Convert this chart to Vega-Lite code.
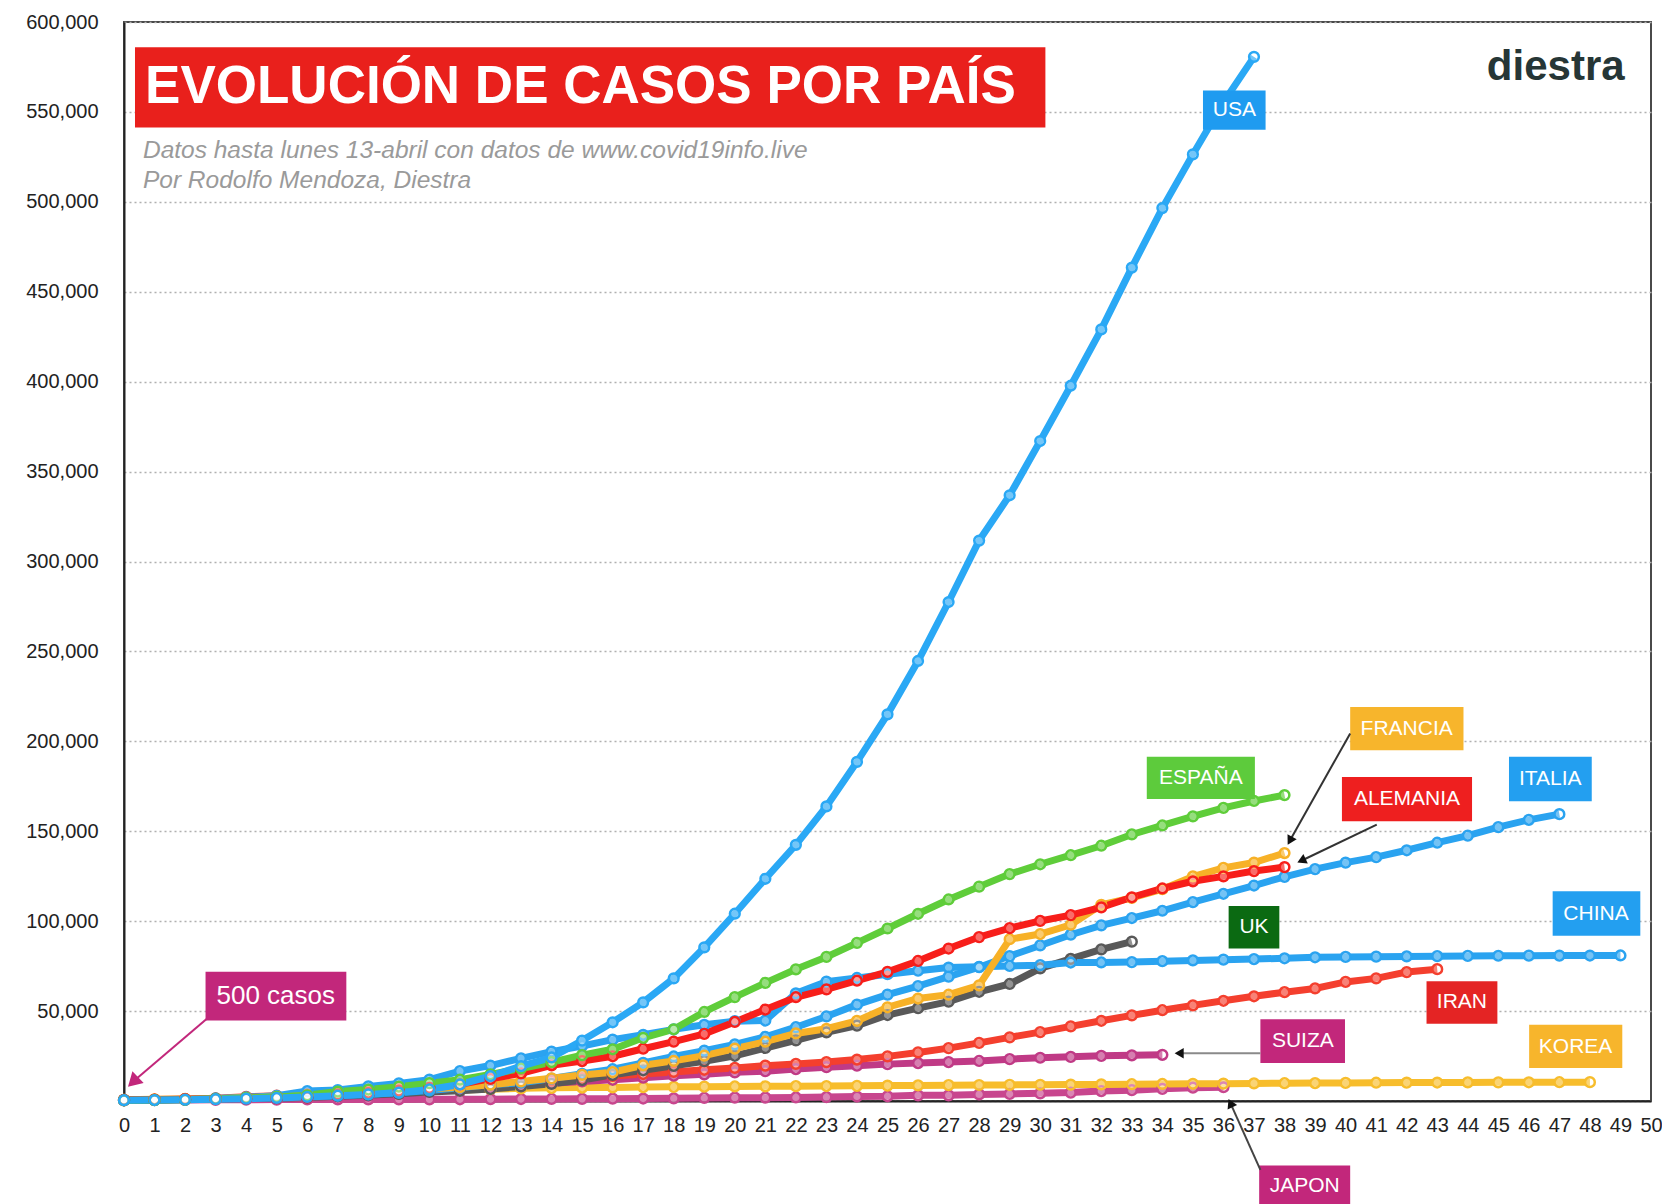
{
  "$schema": "https://vega.github.io/schema/vega-lite/v6.json",
  "width": 1527,
  "height": 1079,
  "autosize": {"type": "none"},
  "padding": {"left": 124, "top": 22, "right": 11, "bottom": 103},
  "background": "white",
  "config": {
    "font": "Liberation Sans",
    "view": {"stroke": "#4a4a4a", "strokeWidth": 2},
    "axisX": {"labelFontSize": 20, "labelColor": "#222", "ticks": false, "domainColor": "#222", "domainWidth": 2, "grid": false, "labelPadding": 14, "labelOverlap": false, "labelFlush": false, "labelFont": "Liberation Sans"},
    "axisY": {"labelFontSize": 20, "labelColor": "#222", "ticks": false, "domainColor": "#222", "domainWidth": 2, "grid": true, "gridColor": "#b0b0b0", "gridDash": [2, 3], "gridWidth": 1.5, "labelPadding": 26, "labelFont": "Liberation Sans", "labelOverlap": false}
  },
  "datasets": {
    "series": [
      {"pais":"JAPON","dia":0,"casos":502},{"pais":"JAPON","dia":1,"casos":530},{"pais":"JAPON","dia":2,"casos":581},{"pais":"JAPON","dia":3,"casos":639},{"pais":"JAPON","dia":4,"casos":701},{"pais":"JAPON","dia":5,"casos":773},{"pais":"JAPON","dia":6,"casos":839},{"pais":"JAPON","dia":7,"casos":839},{"pais":"JAPON","dia":8,"casos":878},{"pais":"JAPON","dia":9,"casos":889},{"pais":"JAPON","dia":10,"casos":924},{"pais":"JAPON","dia":11,"casos":963},{"pais":"JAPON","dia":12,"casos":1007},{"pais":"JAPON","dia":13,"casos":1101},{"pais":"JAPON","dia":14,"casos":1128},{"pais":"JAPON","dia":15,"casos":1193},{"pais":"JAPON","dia":16,"casos":1307},{"pais":"JAPON","dia":17,"casos":1387},{"pais":"JAPON","dia":18,"casos":1468},{"pais":"JAPON","dia":19,"casos":1693},{"pais":"JAPON","dia":20,"casos":1866},{"pais":"JAPON","dia":21,"casos":1866},{"pais":"JAPON","dia":22,"casos":1953},{"pais":"JAPON","dia":23,"casos":2178},{"pais":"JAPON","dia":24,"casos":2495},{"pais":"JAPON","dia":25,"casos":2617},{"pais":"JAPON","dia":26,"casos":3139},{"pais":"JAPON","dia":27,"casos":3139},{"pais":"JAPON","dia":28,"casos":3654},{"pais":"JAPON","dia":29,"casos":3906},{"pais":"JAPON","dia":30,"casos":4257},{"pais":"JAPON","dia":31,"casos":4667},{"pais":"JAPON","dia":32,"casos":5530},{"pais":"JAPON","dia":33,"casos":6005},{"pais":"JAPON","dia":34,"casos":6748},{"pais":"JAPON","dia":35,"casos":7370},{"pais":"JAPON","dia":36,"casos":7645},
      {"pais":"KOREA","dia":0,"casos":602},{"pais":"KOREA","dia":1,"casos":833},{"pais":"KOREA","dia":2,"casos":977},{"pais":"KOREA","dia":3,"casos":1261},{"pais":"KOREA","dia":4,"casos":1766},{"pais":"KOREA","dia":5,"casos":2337},{"pais":"KOREA","dia":6,"casos":3150},{"pais":"KOREA","dia":7,"casos":3736},{"pais":"KOREA","dia":8,"casos":4335},{"pais":"KOREA","dia":9,"casos":5186},{"pais":"KOREA","dia":10,"casos":5621},{"pais":"KOREA","dia":11,"casos":6088},{"pais":"KOREA","dia":12,"casos":6593},{"pais":"KOREA","dia":13,"casos":7041},{"pais":"KOREA","dia":14,"casos":7314},{"pais":"KOREA","dia":15,"casos":7478},{"pais":"KOREA","dia":16,"casos":7513},{"pais":"KOREA","dia":17,"casos":7755},{"pais":"KOREA","dia":18,"casos":7869},{"pais":"KOREA","dia":19,"casos":7979},{"pais":"KOREA","dia":20,"casos":8086},{"pais":"KOREA","dia":21,"casos":8162},{"pais":"KOREA","dia":22,"casos":8236},{"pais":"KOREA","dia":23,"casos":8320},{"pais":"KOREA","dia":24,"casos":8413},{"pais":"KOREA","dia":25,"casos":8565},{"pais":"KOREA","dia":26,"casos":8652},{"pais":"KOREA","dia":27,"casos":8799},{"pais":"KOREA","dia":28,"casos":8897},{"pais":"KOREA","dia":29,"casos":8961},{"pais":"KOREA","dia":30,"casos":9037},{"pais":"KOREA","dia":31,"casos":9137},{"pais":"KOREA","dia":32,"casos":9241},{"pais":"KOREA","dia":33,"casos":9332},{"pais":"KOREA","dia":34,"casos":9478},{"pais":"KOREA","dia":35,"casos":9583},{"pais":"KOREA","dia":36,"casos":9661},{"pais":"KOREA","dia":37,"casos":9786},{"pais":"KOREA","dia":38,"casos":9887},{"pais":"KOREA","dia":39,"casos":9976},{"pais":"KOREA","dia":40,"casos":10062},{"pais":"KOREA","dia":41,"casos":10156},{"pais":"KOREA","dia":42,"casos":10237},{"pais":"KOREA","dia":43,"casos":10284},{"pais":"KOREA","dia":44,"casos":10331},{"pais":"KOREA","dia":45,"casos":10384},{"pais":"KOREA","dia":46,"casos":10423},{"pais":"KOREA","dia":47,"casos":10450},{"pais":"KOREA","dia":48,"casos":10480},
      {"pais":"SUIZA","dia":0,"casos":491},{"pais":"SUIZA","dia":1,"casos":645},{"pais":"SUIZA","dia":2,"casos":858},{"pais":"SUIZA","dia":3,"casos":1125},{"pais":"SUIZA","dia":4,"casos":1359},{"pais":"SUIZA","dia":5,"casos":2200},{"pais":"SUIZA","dia":6,"casos":2200},{"pais":"SUIZA","dia":7,"casos":2700},{"pais":"SUIZA","dia":8,"casos":3028},{"pais":"SUIZA","dia":9,"casos":4075},{"pais":"SUIZA","dia":10,"casos":5294},{"pais":"SUIZA","dia":11,"casos":6575},{"pais":"SUIZA","dia":12,"casos":7474},{"pais":"SUIZA","dia":13,"casos":8795},{"pais":"SUIZA","dia":14,"casos":9877},{"pais":"SUIZA","dia":15,"casos":10897},{"pais":"SUIZA","dia":16,"casos":11811},{"pais":"SUIZA","dia":17,"casos":12928},{"pais":"SUIZA","dia":18,"casos":14076},{"pais":"SUIZA","dia":19,"casos":14829},{"pais":"SUIZA","dia":20,"casos":15922},{"pais":"SUIZA","dia":21,"casos":16605},{"pais":"SUIZA","dia":22,"casos":17768},{"pais":"SUIZA","dia":23,"casos":18827},{"pais":"SUIZA","dia":24,"casos":19606},{"pais":"SUIZA","dia":25,"casos":20505},{"pais":"SUIZA","dia":26,"casos":21100},{"pais":"SUIZA","dia":27,"casos":21657},{"pais":"SUIZA","dia":28,"casos":22253},{"pais":"SUIZA","dia":29,"casos":23280},{"pais":"SUIZA","dia":30,"casos":24051},{"pais":"SUIZA","dia":31,"casos":24551},{"pais":"SUIZA","dia":32,"casos":25107},{"pais":"SUIZA","dia":33,"casos":25415},{"pais":"SUIZA","dia":34,"casos":25688},
      {"pais":"IRAN","dia":0,"casos":388},{"pais":"IRAN","dia":1,"casos":593},{"pais":"IRAN","dia":2,"casos":978},{"pais":"IRAN","dia":3,"casos":1501},{"pais":"IRAN","dia":4,"casos":2336},{"pais":"IRAN","dia":5,"casos":2922},{"pais":"IRAN","dia":6,"casos":3513},{"pais":"IRAN","dia":7,"casos":4747},{"pais":"IRAN","dia":8,"casos":5823},{"pais":"IRAN","dia":9,"casos":6566},{"pais":"IRAN","dia":10,"casos":7161},{"pais":"IRAN","dia":11,"casos":8042},{"pais":"IRAN","dia":12,"casos":9000},{"pais":"IRAN","dia":13,"casos":10075},{"pais":"IRAN","dia":14,"casos":11364},{"pais":"IRAN","dia":15,"casos":12729},{"pais":"IRAN","dia":16,"casos":13938},{"pais":"IRAN","dia":17,"casos":14991},{"pais":"IRAN","dia":18,"casos":16169},{"pais":"IRAN","dia":19,"casos":17361},{"pais":"IRAN","dia":20,"casos":18407},{"pais":"IRAN","dia":21,"casos":19644},{"pais":"IRAN","dia":22,"casos":20610},{"pais":"IRAN","dia":23,"casos":21638},{"pais":"IRAN","dia":24,"casos":23049},{"pais":"IRAN","dia":25,"casos":24811},{"pais":"IRAN","dia":26,"casos":27017},{"pais":"IRAN","dia":27,"casos":29406},{"pais":"IRAN","dia":28,"casos":32332},{"pais":"IRAN","dia":29,"casos":35408},{"pais":"IRAN","dia":30,"casos":38309},{"pais":"IRAN","dia":31,"casos":41495},{"pais":"IRAN","dia":32,"casos":44605},{"pais":"IRAN","dia":33,"casos":47593},{"pais":"IRAN","dia":34,"casos":50468},{"pais":"IRAN","dia":35,"casos":53183},{"pais":"IRAN","dia":36,"casos":55743},{"pais":"IRAN","dia":37,"casos":58226},{"pais":"IRAN","dia":38,"casos":60500},{"pais":"IRAN","dia":39,"casos":62589},{"pais":"IRAN","dia":40,"casos":66220},{"pais":"IRAN","dia":41,"casos":68192},{"pais":"IRAN","dia":42,"casos":71686},{"pais":"IRAN","dia":43,"casos":73303},
      {"pais":"UK","dia":0,"casos":456},{"pais":"UK","dia":1,"casos":590},{"pais":"UK","dia":2,"casos":798},{"pais":"UK","dia":3,"casos":1140},{"pais":"UK","dia":4,"casos":1391},{"pais":"UK","dia":5,"casos":1543},{"pais":"UK","dia":6,"casos":1950},{"pais":"UK","dia":7,"casos":2626},{"pais":"UK","dia":8,"casos":3269},{"pais":"UK","dia":9,"casos":3983},{"pais":"UK","dia":10,"casos":5018},{"pais":"UK","dia":11,"casos":5683},{"pais":"UK","dia":12,"casos":6650},{"pais":"UK","dia":13,"casos":8077},{"pais":"UK","dia":14,"casos":9529},{"pais":"UK","dia":15,"casos":11658},{"pais":"UK","dia":16,"casos":14543},{"pais":"UK","dia":17,"casos":17089},{"pais":"UK","dia":18,"casos":19522},{"pais":"UK","dia":19,"casos":22141},{"pais":"UK","dia":20,"casos":25150},{"pais":"UK","dia":21,"casos":29474},{"pais":"UK","dia":22,"casos":33718},{"pais":"UK","dia":23,"casos":38168},{"pais":"UK","dia":24,"casos":41903},{"pais":"UK","dia":25,"casos":47806},{"pais":"UK","dia":26,"casos":51608},{"pais":"UK","dia":27,"casos":55242},{"pais":"UK","dia":28,"casos":60733},{"pais":"UK","dia":29,"casos":65077},{"pais":"UK","dia":30,"casos":73758},{"pais":"UK","dia":31,"casos":78991},{"pais":"UK","dia":32,"casos":84279},{"pais":"UK","dia":33,"casos":88621},
      {"pais":"CHINA","dia":0,"casos":548},{"pais":"CHINA","dia":1,"casos":643},{"pais":"CHINA","dia":2,"casos":920},{"pais":"CHINA","dia":3,"casos":1406},{"pais":"CHINA","dia":4,"casos":2075},{"pais":"CHINA","dia":5,"casos":2877},{"pais":"CHINA","dia":6,"casos":5509},{"pais":"CHINA","dia":7,"casos":6087},{"pais":"CHINA","dia":8,"casos":8141},{"pais":"CHINA","dia":9,"casos":9802},{"pais":"CHINA","dia":10,"casos":11891},{"pais":"CHINA","dia":11,"casos":16630},{"pais":"CHINA","dia":12,"casos":19716},{"pais":"CHINA","dia":13,"casos":23707},{"pais":"CHINA","dia":14,"casos":27440},{"pais":"CHINA","dia":15,"casos":30587},{"pais":"CHINA","dia":16,"casos":34110},{"pais":"CHINA","dia":17,"casos":36814},{"pais":"CHINA","dia":18,"casos":39829},{"pais":"CHINA","dia":19,"casos":42354},{"pais":"CHINA","dia":20,"casos":44386},{"pais":"CHINA","dia":21,"casos":44759},{"pais":"CHINA","dia":22,"casos":59895},{"pais":"CHINA","dia":23,"casos":66358},{"pais":"CHINA","dia":24,"casos":68413},{"pais":"CHINA","dia":25,"casos":70513},{"pais":"CHINA","dia":26,"casos":72434},{"pais":"CHINA","dia":27,"casos":74211},{"pais":"CHINA","dia":28,"casos":74619},{"pais":"CHINA","dia":29,"casos":75077},{"pais":"CHINA","dia":30,"casos":75550},{"pais":"CHINA","dia":31,"casos":77001},{"pais":"CHINA","dia":32,"casos":77022},{"pais":"CHINA","dia":33,"casos":77241},{"pais":"CHINA","dia":34,"casos":77754},{"pais":"CHINA","dia":35,"casos":78166},{"pais":"CHINA","dia":36,"casos":78600},{"pais":"CHINA","dia":37,"casos":78928},{"pais":"CHINA","dia":38,"casos":79356},{"pais":"CHINA","dia":39,"casos":79932},{"pais":"CHINA","dia":40,"casos":80136},{"pais":"CHINA","dia":41,"casos":80261},{"pais":"CHINA","dia":42,"casos":80386},{"pais":"CHINA","dia":43,"casos":80537},{"pais":"CHINA","dia":44,"casos":80690},{"pais":"CHINA","dia":45,"casos":80770},{"pais":"CHINA","dia":46,"casos":80823},{"pais":"CHINA","dia":47,"casos":80860},{"pais":"CHINA","dia":48,"casos":80887},{"pais":"CHINA","dia":49,"casos":80921},
      {"pais":"ITALIA","dia":0,"casos":453},{"pais":"ITALIA","dia":1,"casos":655},{"pais":"ITALIA","dia":2,"casos":888},{"pais":"ITALIA","dia":3,"casos":1128},{"pais":"ITALIA","dia":4,"casos":1694},{"pais":"ITALIA","dia":5,"casos":2036},{"pais":"ITALIA","dia":6,"casos":2502},{"pais":"ITALIA","dia":7,"casos":3089},{"pais":"ITALIA","dia":8,"casos":3858},{"pais":"ITALIA","dia":9,"casos":4636},{"pais":"ITALIA","dia":10,"casos":5883},{"pais":"ITALIA","dia":11,"casos":7375},{"pais":"ITALIA","dia":12,"casos":9172},{"pais":"ITALIA","dia":13,"casos":10149},{"pais":"ITALIA","dia":14,"casos":12462},{"pais":"ITALIA","dia":15,"casos":15113},{"pais":"ITALIA","dia":16,"casos":17660},{"pais":"ITALIA","dia":17,"casos":21157},{"pais":"ITALIA","dia":18,"casos":24747},{"pais":"ITALIA","dia":19,"casos":27980},{"pais":"ITALIA","dia":20,"casos":31506},{"pais":"ITALIA","dia":21,"casos":35713},{"pais":"ITALIA","dia":22,"casos":41035},{"pais":"ITALIA","dia":23,"casos":47021},{"pais":"ITALIA","dia":24,"casos":53578},{"pais":"ITALIA","dia":25,"casos":59138},{"pais":"ITALIA","dia":26,"casos":63927},{"pais":"ITALIA","dia":27,"casos":69176},{"pais":"ITALIA","dia":28,"casos":74386},{"pais":"ITALIA","dia":29,"casos":80589},{"pais":"ITALIA","dia":30,"casos":86498},{"pais":"ITALIA","dia":31,"casos":92472},{"pais":"ITALIA","dia":32,"casos":97689},{"pais":"ITALIA","dia":33,"casos":101739},{"pais":"ITALIA","dia":34,"casos":105792},{"pais":"ITALIA","dia":35,"casos":110574},{"pais":"ITALIA","dia":36,"casos":115242},{"pais":"ITALIA","dia":37,"casos":119827},{"pais":"ITALIA","dia":38,"casos":124632},{"pais":"ITALIA","dia":39,"casos":128948},{"pais":"ITALIA","dia":40,"casos":132547},{"pais":"ITALIA","dia":41,"casos":135586},{"pais":"ITALIA","dia":42,"casos":139422},{"pais":"ITALIA","dia":43,"casos":143626},{"pais":"ITALIA","dia":44,"casos":147577},{"pais":"ITALIA","dia":45,"casos":152271},{"pais":"ITALIA","dia":46,"casos":156363},{"pais":"ITALIA","dia":47,"casos":159516},
      {"pais":"FRANCIA","dia":0,"casos":653},{"pais":"FRANCIA","dia":1,"casos":949},{"pais":"FRANCIA","dia":2,"casos":1126},{"pais":"FRANCIA","dia":3,"casos":1209},{"pais":"FRANCIA","dia":4,"casos":1784},{"pais":"FRANCIA","dia":5,"casos":2281},{"pais":"FRANCIA","dia":6,"casos":2876},{"pais":"FRANCIA","dia":7,"casos":3661},{"pais":"FRANCIA","dia":8,"casos":4469},{"pais":"FRANCIA","dia":9,"casos":5423},{"pais":"FRANCIA","dia":10,"casos":6633},{"pais":"FRANCIA","dia":11,"casos":7652},{"pais":"FRANCIA","dia":12,"casos":9043},{"pais":"FRANCIA","dia":13,"casos":10871},{"pais":"FRANCIA","dia":14,"casos":12612},{"pais":"FRANCIA","dia":15,"casos":14459},{"pais":"FRANCIA","dia":16,"casos":16018},{"pais":"FRANCIA","dia":17,"casos":19856},{"pais":"FRANCIA","dia":18,"casos":22304},{"pais":"FRANCIA","dia":19,"casos":25233},{"pais":"FRANCIA","dia":20,"casos":29155},{"pais":"FRANCIA","dia":21,"casos":32964},{"pais":"FRANCIA","dia":22,"casos":37575},{"pais":"FRANCIA","dia":23,"casos":40174},{"pais":"FRANCIA","dia":24,"casos":44550},{"pais":"FRANCIA","dia":25,"casos":52128},{"pais":"FRANCIA","dia":26,"casos":56989},{"pais":"FRANCIA","dia":27,"casos":59105},{"pais":"FRANCIA","dia":28,"casos":64338},{"pais":"FRANCIA","dia":29,"casos":89953},{"pais":"FRANCIA","dia":30,"casos":92839},{"pais":"FRANCIA","dia":31,"casos":98010},{"pais":"FRANCIA","dia":32,"casos":109069},{"pais":"FRANCIA","dia":33,"casos":112950},{"pais":"FRANCIA","dia":34,"casos":117749},{"pais":"FRANCIA","dia":35,"casos":124869},{"pais":"FRANCIA","dia":36,"casos":129654},{"pais":"FRANCIA","dia":37,"casos":132591},{"pais":"FRANCIA","dia":38,"casos":137877},
      {"pais":"ALEMANIA","dia":0,"casos":670},{"pais":"ALEMANIA","dia":1,"casos":799},{"pais":"ALEMANIA","dia":2,"casos":1040},{"pais":"ALEMANIA","dia":3,"casos":1176},{"pais":"ALEMANIA","dia":4,"casos":1457},{"pais":"ALEMANIA","dia":5,"casos":1908},{"pais":"ALEMANIA","dia":6,"casos":2078},{"pais":"ALEMANIA","dia":7,"casos":3675},{"pais":"ALEMANIA","dia":8,"casos":4585},{"pais":"ALEMANIA","dia":9,"casos":5795},{"pais":"ALEMANIA","dia":10,"casos":7272},{"pais":"ALEMANIA","dia":11,"casos":9257},{"pais":"ALEMANIA","dia":12,"casos":12327},{"pais":"ALEMANIA","dia":13,"casos":15320},{"pais":"ALEMANIA","dia":14,"casos":19848},{"pais":"ALEMANIA","dia":15,"casos":22213},{"pais":"ALEMANIA","dia":16,"casos":24873},{"pais":"ALEMANIA","dia":17,"casos":29056},{"pais":"ALEMANIA","dia":18,"casos":32986},{"pais":"ALEMANIA","dia":19,"casos":37323},{"pais":"ALEMANIA","dia":20,"casos":43938},{"pais":"ALEMANIA","dia":21,"casos":50871},{"pais":"ALEMANIA","dia":22,"casos":57695},{"pais":"ALEMANIA","dia":23,"casos":62095},{"pais":"ALEMANIA","dia":24,"casos":66885},{"pais":"ALEMANIA","dia":25,"casos":71808},{"pais":"ALEMANIA","dia":26,"casos":77872},{"pais":"ALEMANIA","dia":27,"casos":84794},{"pais":"ALEMANIA","dia":28,"casos":91159},{"pais":"ALEMANIA","dia":29,"casos":96092},{"pais":"ALEMANIA","dia":30,"casos":100123},{"pais":"ALEMANIA","dia":31,"casos":103374},{"pais":"ALEMANIA","dia":32,"casos":107663},{"pais":"ALEMANIA","dia":33,"casos":113296},{"pais":"ALEMANIA","dia":34,"casos":118181},{"pais":"ALEMANIA","dia":35,"casos":122171},{"pais":"ALEMANIA","dia":36,"casos":124908},{"pais":"ALEMANIA","dia":37,"casos":127854},{"pais":"ALEMANIA","dia":38,"casos":130072},
      {"pais":"ESPAÑA","dia":0,"casos":401},{"pais":"ESPAÑA","dia":1,"casos":525},{"pais":"ESPAÑA","dia":2,"casos":674},{"pais":"ESPAÑA","dia":3,"casos":1231},{"pais":"ESPAÑA","dia":4,"casos":1695},{"pais":"ESPAÑA","dia":5,"casos":2277},{"pais":"ESPAÑA","dia":6,"casos":3146},{"pais":"ESPAÑA","dia":7,"casos":5232},{"pais":"ESPAÑA","dia":8,"casos":6391},{"pais":"ESPAÑA","dia":9,"casos":7988},{"pais":"ESPAÑA","dia":10,"casos":9942},{"pais":"ESPAÑA","dia":11,"casos":11826},{"pais":"ESPAÑA","dia":12,"casos":14769},{"pais":"ESPAÑA","dia":13,"casos":18077},{"pais":"ESPAÑA","dia":14,"casos":21571},{"pais":"ESPAÑA","dia":15,"casos":25496},{"pais":"ESPAÑA","dia":16,"casos":28768},{"pais":"ESPAÑA","dia":17,"casos":35136},{"pais":"ESPAÑA","dia":18,"casos":39885},{"pais":"ESPAÑA","dia":19,"casos":49515},{"pais":"ESPAÑA","dia":20,"casos":57786},{"pais":"ESPAÑA","dia":21,"casos":65719},{"pais":"ESPAÑA","dia":22,"casos":73235},{"pais":"ESPAÑA","dia":23,"casos":80110},{"pais":"ESPAÑA","dia":24,"casos":87956},{"pais":"ESPAÑA","dia":25,"casos":95923},{"pais":"ESPAÑA","dia":26,"casos":104118},{"pais":"ESPAÑA","dia":27,"casos":112065},{"pais":"ESPAÑA","dia":28,"casos":119199},{"pais":"ESPAÑA","dia":29,"casos":126168},{"pais":"ESPAÑA","dia":30,"casos":131646},{"pais":"ESPAÑA","dia":31,"casos":136675},{"pais":"ESPAÑA","dia":32,"casos":141942},{"pais":"ESPAÑA","dia":33,"casos":148220},{"pais":"ESPAÑA","dia":34,"casos":153222},{"pais":"ESPAÑA","dia":35,"casos":158273},{"pais":"ESPAÑA","dia":36,"casos":163027},{"pais":"ESPAÑA","dia":37,"casos":166831},{"pais":"ESPAÑA","dia":38,"casos":170099},
      {"pais":"USA","dia":0,"casos":430},{"pais":"USA","dia":1,"casos":541},{"pais":"USA","dia":2,"casos":704},{"pais":"USA","dia":3,"casos":994},{"pais":"USA","dia":4,"casos":1301},{"pais":"USA","dia":5,"casos":1697},{"pais":"USA","dia":6,"casos":2247},{"pais":"USA","dia":7,"casos":2943},{"pais":"USA","dia":8,"casos":3680},{"pais":"USA","dia":9,"casos":4663},{"pais":"USA","dia":10,"casos":6411},{"pais":"USA","dia":11,"casos":9197},{"pais":"USA","dia":12,"casos":13779},{"pais":"USA","dia":13,"casos":19367},{"pais":"USA","dia":14,"casos":24192},{"pais":"USA","dia":15,"casos":33592},{"pais":"USA","dia":16,"casos":43781},{"pais":"USA","dia":17,"casos":54856},{"pais":"USA","dia":18,"casos":68211},{"pais":"USA","dia":19,"casos":85435},{"pais":"USA","dia":20,"casos":104126},{"pais":"USA","dia":21,"casos":123578},{"pais":"USA","dia":22,"casos":142460},{"pais":"USA","dia":23,"casos":163788},{"pais":"USA","dia":24,"casos":188592},{"pais":"USA","dia":25,"casos":215003},{"pais":"USA","dia":26,"casos":244678},{"pais":"USA","dia":27,"casos":277475},{"pais":"USA","dia":28,"casos":311637},{"pais":"USA","dia":29,"casos":336830},{"pais":"USA","dia":30,"casos":367004},{"pais":"USA","dia":31,"casos":397754},{"pais":"USA","dia":32,"casos":429052},{"pais":"USA","dia":33,"casos":463433},{"pais":"USA","dia":34,"casos":496535},{"pais":"USA","dia":35,"casos":526396},{"pais":"USA","dia":36,"casos":555313},{"pais":"USA","dia":37,"casos":580619}
    ],
    "boxes": [
      {"etiqueta":"titulo","texto":"","x1":0.36,"x2":30.17,"y1":541300,"y2":586000,"tx":15.26,"ty":563700},
      {"etiqueta":"USA","texto":"USA","x1":35.33,"x2":37.38,"y1":540100,"y2":561900,"tx":36.36,"ty":551000},
      {"etiqueta":"ESPAÑA","texto":"ESPAÑA","x1":33.49,"x2":37.03,"y1":167900,"y2":191400,"tx":35.26,"ty":179600},
      {"etiqueta":"FRANCIA","texto":"FRANCIA","x1":40.15,"x2":43.86,"y1":195000,"y2":219100,"tx":42.0,"ty":207000},
      {"etiqueta":"ALEMANIA","texto":"ALEMANIA","x1":39.88,"x2":44.14,"y1":155500,"y2":180200,"tx":42.01,"ty":167800},
      {"etiqueta":"ITALIA","texto":"ITALIA","x1":45.35,"x2":48.06,"y1":166700,"y2":191400,"tx":46.7,"ty":179000},
      {"etiqueta":"CHINA","texto":"CHINA","x1":46.78,"x2":49.65,"y1":91900,"y2":116600,"tx":48.2,"ty":104200},
      {"etiqueta":"UK","texto":"UK","x1":36.17,"x2":37.83,"y1":84800,"y2":108400,"tx":37.0,"ty":96600},
      {"etiqueta":"IRAN","texto":"IRAN","x1":42.65,"x2":44.97,"y1":43000,"y2":66600,"tx":43.81,"ty":54800},
      {"etiqueta":"SUIZA","texto":"SUIZA","x1":37.21,"x2":39.98,"y1":21200,"y2":45400,"tx":38.6,"ty":33300},
      {"etiqueta":"KOREA","texto":"KOREA","x1":46.01,"x2":49.06,"y1":18300,"y2":42400,"tx":47.53,"ty":30300},
      {"etiqueta":"JAPON","texto":"JAPON","x1":37.17,"x2":40.15,"y1":-60000,"y2":-35900,"tx":38.66,"ty":-47000},
      {"etiqueta":"500 casos","texto":"500 casos","x1":2.67,"x2":7.28,"y1":44800,"y2":71900,"tx":4.97,"ty":58300}
    ],
    "arrows": [
      {"flecha":"500 casos","x":2.8,"y":47000,"x2":0.35,"y2":11500},
      {"flecha":"FRANCIA","x":40.15,"y":204400,"x2":38.2,"y2":145500},
      {"flecha":"ALEMANIA","x":41.02,"y":153700,"x2":38.6,"y2":134000},
      {"flecha":"SUIZA","x":37.21,"y":26500,"x2":34.6,"y2":26500},
      {"flecha":"JAPON","x":37.21,"y":-38300,"x2":36.25,"y2":-2000}
    ],
    "textos": [
      {"tipo":"titulo","texto":"EVOLUCIÓN DE CASOS POR PAÍS","x":0.69,"y":563700},
      {"tipo":"sub","texto":"Datos hasta lunes 13-abril con datos de www.covid19info.live","x":0.62,"y":528300},
      {"tipo":"sub","texto":"Por Rodolfo Mendoza, Diestra","x":0.62,"y":511800},
      {"tipo":"logo","texto":"diestra","x":46.88,"y":574900}
    ]
  },
  "layer": [
    {
      "data": {"name": "series"},
      "mark": {"type": "line", "strokeWidth": 7, "point": {"filled": false, "fill": "white", "fillOpacity": 0.35, "strokeWidth": 2.5, "size": 95, "opacity": 1}},
      "encoding": {
        "x": {"field": "dia", "type": "quantitative", "title": null, "scale": {"domain": [0, 50], "nice": false}, "axis": {"values": [0,1,2,3,4,5,6,7,8,9,10,11,12,13,14,15,16,17,18,19,20,21,22,23,24,25,26,27,28,29,30,31,32,33,34,35,36,37,38,39,40,41,42,43,44,45,46,47,48,49,50], "labelOverlap": false}},
        "y": {"field": "casos", "type": "quantitative", "title": null, "scale": {"domain": [0, 600000], "nice": false}, "axis": {"values": [0,50000,100000,150000,200000,250000,300000,350000,400000,450000,500000,550000,600000], "labelExpr": "datum.value == 0 ? '' : format(datum.value, ',')"}},
        "color": {"field": "pais", "type": "nominal", "legend": null, "sort": null,
          "scale": {"domain": ["JAPON","KOREA","SUIZA","IRAN","UK","CHINA","ITALIA","FRANCIA","ALEMANIA","ESPAÑA","USA"],
                    "range": ["#c8468e","#f7bd2c","#c03a86","#f43f2e","#595959","#2aa3f0","#2aa3f0","#f7b127","#f71e1a","#5fcd3a","#2aa8f5"]}}
      }
    },
    {
      "data": {"name": "boxes"},
      "mark": {"type": "rect"},
      "encoding": {
        "x": {"field": "x1", "type": "quantitative", "title": null, "scale": {"domain": [0, 50], "nice": false}, "axis": {"values": [0,1,2,3,4,5,6,7,8,9,10,11,12,13,14,15,16,17,18,19,20,21,22,23,24,25,26,27,28,29,30,31,32,33,34,35,36,37,38,39,40,41,42,43,44,45,46,47,48,49,50], "labelOverlap": false}},
        "x2": {"field": "x2"},
        "y": {"field": "y1", "type": "quantitative", "title": null, "scale": {"domain": [0, 600000], "nice": false}, "axis": {"values": [0,50000,100000,150000,200000,250000,300000,350000,400000,450000,500000,550000,600000], "labelExpr": "datum.value == 0 ? '' : format(datum.value, ',')"}},
        "y2": {"field": "y2"},
        "fill": {"field": "etiqueta", "type": "nominal", "legend": null,
          "scale": {"domain": ["titulo","USA","ESPAÑA","FRANCIA","ALEMANIA","ITALIA","CHINA","UK","IRAN","SUIZA","KOREA","JAPON","500 casos"],
                    "range": ["#e9201c","#1f9bf0","#5dcb3c","#f7b52c","#ee1f1f","#239ff0","#239ff0","#0b6a12","#e42424","#c2277b","#f7b52c","#c2277b","#c2277b"]}}
      }
    },
    {
      "data": {"name": "boxes"},
      "transform": [{"filter": "datum.etiqueta !== 'titulo'"}],
      "mark": {"type": "text", "color": "white", "align": "center", "baseline": "middle", "font": "Liberation Sans"},
      "encoding": {
        "x": {"field": "tx", "type": "quantitative", "title": null, "scale": {"domain": [0, 50], "nice": false}, "axis": {"values": [0,1,2,3,4,5,6,7,8,9,10,11,12,13,14,15,16,17,18,19,20,21,22,23,24,25,26,27,28,29,30,31,32,33,34,35,36,37,38,39,40,41,42,43,44,45,46,47,48,49,50], "labelOverlap": false}},
        "y": {"field": "ty", "type": "quantitative", "title": null, "scale": {"domain": [0, 600000], "nice": false}, "axis": {"values": [0,50000,100000,150000,200000,250000,300000,350000,400000,450000,500000,550000,600000], "labelExpr": "datum.value == 0 ? '' : format(datum.value, ',')"}},
        "text": {"field": "texto"},
        "size": {"condition": {"test": "datum.etiqueta === '500 casos'", "value": 26}, "value": 21}
      }
    },
    {
      "data": {"name": "textos"},
      "transform": [{"filter": "datum.tipo === 'titulo'"}],
      "mark": {"type": "text", "color": "white", "align": "left", "baseline": "middle", "fontSize": 53, "fontWeight": "bold", "font": "Liberation Sans"},
      "encoding": {
        "x": {"field": "x", "type": "quantitative", "title": null, "scale": {"domain": [0, 50], "nice": false}, "axis": {"values": [0,1,2,3,4,5,6,7,8,9,10,11,12,13,14,15,16,17,18,19,20,21,22,23,24,25,26,27,28,29,30,31,32,33,34,35,36,37,38,39,40,41,42,43,44,45,46,47,48,49,50], "labelOverlap": false}},
        "y": {"field": "y", "type": "quantitative", "title": null, "scale": {"domain": [0, 600000], "nice": false}, "axis": {"values": [0,50000,100000,150000,200000,250000,300000,350000,400000,450000,500000,550000,600000], "labelExpr": "datum.value == 0 ? '' : format(datum.value, ',')"}},
        "text": {"field": "texto"}
      }
    },
    {
      "data": {"name": "textos"},
      "transform": [{"filter": "datum.tipo === 'sub'"}],
      "mark": {"type": "text", "color": "#9a9a9a", "align": "left", "baseline": "middle", "fontSize": 24.5, "fontStyle": "italic", "font": "Liberation Sans"},
      "encoding": {
        "x": {"field": "x", "type": "quantitative", "title": null, "scale": {"domain": [0, 50], "nice": false}, "axis": {"values": [0,1,2,3,4,5,6,7,8,9,10,11,12,13,14,15,16,17,18,19,20,21,22,23,24,25,26,27,28,29,30,31,32,33,34,35,36,37,38,39,40,41,42,43,44,45,46,47,48,49,50], "labelOverlap": false}},
        "y": {"field": "y", "type": "quantitative", "title": null, "scale": {"domain": [0, 600000], "nice": false}, "axis": {"values": [0,50000,100000,150000,200000,250000,300000,350000,400000,450000,500000,550000,600000], "labelExpr": "datum.value == 0 ? '' : format(datum.value, ',')"}},
        "text": {"field": "texto"}
      }
    },
    {
      "data": {"name": "textos"},
      "transform": [{"filter": "datum.tipo === 'logo'"}],
      "mark": {"type": "text", "color": "#263636", "align": "center", "baseline": "middle", "fontSize": 42, "fontWeight": "bold", "font": "Liberation Sans"},
      "encoding": {
        "x": {"field": "x", "type": "quantitative", "title": null, "scale": {"domain": [0, 50], "nice": false}, "axis": {"values": [0,1,2,3,4,5,6,7,8,9,10,11,12,13,14,15,16,17,18,19,20,21,22,23,24,25,26,27,28,29,30,31,32,33,34,35,36,37,38,39,40,41,42,43,44,45,46,47,48,49,50], "labelOverlap": false}},
        "y": {"field": "y", "type": "quantitative", "title": null, "scale": {"domain": [0, 600000], "nice": false}, "axis": {"values": [0,50000,100000,150000,200000,250000,300000,350000,400000,450000,500000,550000,600000], "labelExpr": "datum.value == 0 ? '' : format(datum.value, ',')"}},
        "text": {"field": "texto"}
      }
    },
    {
      "data": {"name": "arrows"},
      "mark": {"type": "rule", "strokeWidth": 2},
      "encoding": {
        "x": {"field": "x", "type": "quantitative", "title": null, "scale": {"domain": [0, 50], "nice": false}, "axis": {"values": [0,1,2,3,4,5,6,7,8,9,10,11,12,13,14,15,16,17,18,19,20,21,22,23,24,25,26,27,28,29,30,31,32,33,34,35,36,37,38,39,40,41,42,43,44,45,46,47,48,49,50], "labelOverlap": false}},
        "y": {"field": "y", "type": "quantitative", "title": null, "scale": {"domain": [0, 600000], "nice": false}, "axis": {"values": [0,50000,100000,150000,200000,250000,300000,350000,400000,450000,500000,550000,600000], "labelExpr": "datum.value == 0 ? '' : format(datum.value, ',')"}},
        "x2": {"field": "x2"},
        "y2": {"field": "y2"},
        "stroke": {"field": "flecha", "type": "nominal", "legend": null,
          "scale": {"domain": ["500 casos","FRANCIA","ALEMANIA","SUIZA","JAPON"], "range": ["#c2277b","#333333","#333333","#8a8a8a","#444444"]}}
      }
    },
    {
      "data": {"name": "arrows"},
      "transform": [{"filter": "datum.flecha === '500 casos'"}],
      "mark": {"type": "point", "shape": "triangle", "filled": true, "size": 260, "angle": 226, "color": "#c2277b", "opacity": 1},
      "encoding": {
        "x": {"field": "x2", "type": "quantitative", "title": null, "scale": {"domain": [0, 50], "nice": false}, "axis": {"values": [0,1,2,3,4,5,6,7,8,9,10,11,12,13,14,15,16,17,18,19,20,21,22,23,24,25,26,27,28,29,30,31,32,33,34,35,36,37,38,39,40,41,42,43,44,45,46,47,48,49,50], "labelOverlap": false}},
        "y": {"field": "y2", "type": "quantitative", "title": null, "scale": {"domain": [0, 600000], "nice": false}, "axis": {"values": [0,50000,100000,150000,200000,250000,300000,350000,400000,450000,500000,550000,600000], "labelExpr": "datum.value == 0 ? '' : format(datum.value, ',')"}}
      }
    },
    {
      "data": {"name": "arrows"},
      "transform": [{"filter": "datum.flecha === 'FRANCIA'"}],
      "mark": {"type": "point", "shape": "triangle", "filled": true, "size": 110, "angle": 209, "color": "#111111", "opacity": 1},
      "encoding": {
        "x": {"field": "x2", "type": "quantitative", "title": null, "scale": {"domain": [0, 50], "nice": false}, "axis": {"values": [0,1,2,3,4,5,6,7,8,9,10,11,12,13,14,15,16,17,18,19,20,21,22,23,24,25,26,27,28,29,30,31,32,33,34,35,36,37,38,39,40,41,42,43,44,45,46,47,48,49,50], "labelOverlap": false}},
        "y": {"field": "y2", "type": "quantitative", "title": null, "scale": {"domain": [0, 600000], "nice": false}, "axis": {"values": [0,50000,100000,150000,200000,250000,300000,350000,400000,450000,500000,550000,600000], "labelExpr": "datum.value == 0 ? '' : format(datum.value, ',')"}}
      }
    },
    {
      "data": {"name": "arrows"},
      "transform": [{"filter": "datum.flecha === 'ALEMANIA'"}],
      "mark": {"type": "point", "shape": "triangle", "filled": true, "size": 110, "angle": 245, "color": "#111111", "opacity": 1},
      "encoding": {
        "x": {"field": "x2", "type": "quantitative", "title": null, "scale": {"domain": [0, 50], "nice": false}, "axis": {"values": [0,1,2,3,4,5,6,7,8,9,10,11,12,13,14,15,16,17,18,19,20,21,22,23,24,25,26,27,28,29,30,31,32,33,34,35,36,37,38,39,40,41,42,43,44,45,46,47,48,49,50], "labelOverlap": false}},
        "y": {"field": "y2", "type": "quantitative", "title": null, "scale": {"domain": [0, 600000], "nice": false}, "axis": {"values": [0,50000,100000,150000,200000,250000,300000,350000,400000,450000,500000,550000,600000], "labelExpr": "datum.value == 0 ? '' : format(datum.value, ',')"}}
      }
    },
    {
      "data": {"name": "arrows"},
      "transform": [{"filter": "datum.flecha === 'SUIZA'"}],
      "mark": {"type": "point", "shape": "triangle", "filled": true, "size": 110, "angle": 270, "color": "#111111", "opacity": 1},
      "encoding": {
        "x": {"field": "x2", "type": "quantitative", "title": null, "scale": {"domain": [0, 50], "nice": false}, "axis": {"values": [0,1,2,3,4,5,6,7,8,9,10,11,12,13,14,15,16,17,18,19,20,21,22,23,24,25,26,27,28,29,30,31,32,33,34,35,36,37,38,39,40,41,42,43,44,45,46,47,48,49,50], "labelOverlap": false}},
        "y": {"field": "y2", "type": "quantitative", "title": null, "scale": {"domain": [0, 600000], "nice": false}, "axis": {"values": [0,50000,100000,150000,200000,250000,300000,350000,400000,450000,500000,550000,600000], "labelExpr": "datum.value == 0 ? '' : format(datum.value, ',')"}}
      }
    },
    {
      "data": {"name": "arrows"},
      "transform": [{"filter": "datum.flecha === 'JAPON'"}],
      "mark": {"type": "point", "shape": "triangle", "filled": true, "size": 110, "angle": 335, "color": "#111111", "opacity": 1},
      "encoding": {
        "x": {"field": "x2", "type": "quantitative", "title": null, "scale": {"domain": [0, 50], "nice": false}, "axis": {"values": [0,1,2,3,4,5,6,7,8,9,10,11,12,13,14,15,16,17,18,19,20,21,22,23,24,25,26,27,28,29,30,31,32,33,34,35,36,37,38,39,40,41,42,43,44,45,46,47,48,49,50], "labelOverlap": false}},
        "y": {"field": "y2", "type": "quantitative", "title": null, "scale": {"domain": [0, 600000], "nice": false}, "axis": {"values": [0,50000,100000,150000,200000,250000,300000,350000,400000,450000,500000,550000,600000], "labelExpr": "datum.value == 0 ? '' : format(datum.value, ',')"}}
      }
    }
  ]
}
